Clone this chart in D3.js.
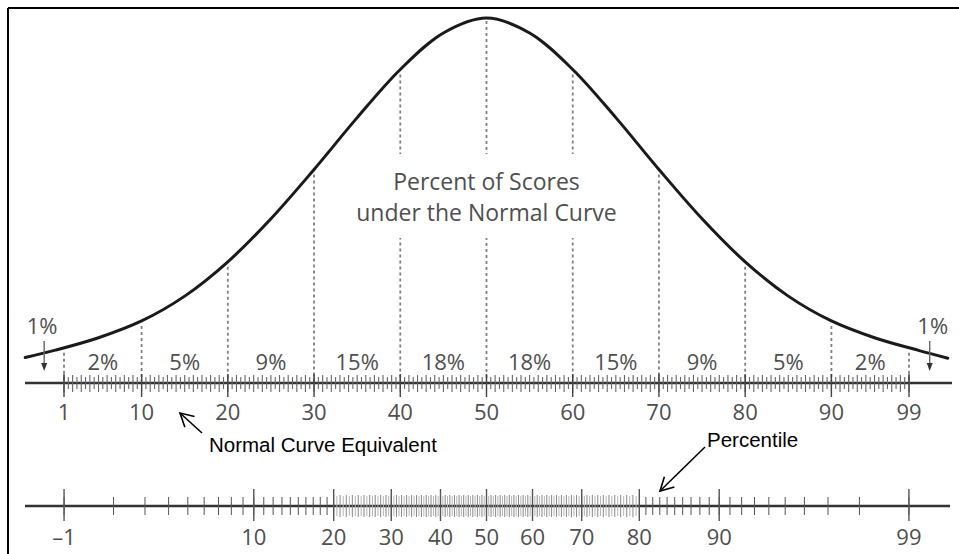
<!DOCTYPE html>
<html><head><meta charset="utf-8">
<script src="https://cdn.jsdelivr.net/npm/d3@7"></script>
<style>
body{margin:0;background:#fff;}
svg{display:block;}
</style></head>
<body>
<svg id="chart" width="959" height="554"></svg>
<script>
// ---------- data ----------
const curveNCE    = [-3.5, 0, 5, 10, 15, 20, 25, 30, 35, 40, 45, 50, 55, 60, 65, 70, 75, 80, 85, 90, 95, 100, 103.5];
const curveHeight = [0.070, 0.090, 0.124, 0.170, 0.238, 0.332, 0.450, 0.585, 0.727, 0.859, 0.959, 1.0,
                     0.959, 0.859, 0.727, 0.585, 0.450, 0.332, 0.238, 0.170, 0.124, 0.090, 0.068];
const dividerNCE   = [1, 10, 20, 30, 40, 50, 60, 70, 80, 90, 99];
const bandPercents = ["2%", "5%", "9%", "15%", "18%", "18%", "15%", "9%", "5%", "2%"];
const tailNCE      = [-1.3, 101.4];
const tailLabels   = ["1%", "1%"];
const nceTickValues  = [1, 10, 20, 30, 40, 50, 60, 70, 80, 90, 99];
const nceTickLabels  = ["1", "10", "20", "30", "40", "50", "60", "70", "80", "90", "99"];
const pctTickValues  = [1, 10, 20, 30, 40, 50, 60, 70, 80, 90, 99];
const pctTickLabels  = ["\u20131", "10", "20", "30", "40", "50", "60", "70", "80", "90", "99"];
const titleLines = ["Percent of Scores", "under the Normal Curve"];
const nceName = "Normal Curve Equivalent";
const pctName = "Percentile";

// ---------- scales ----------
const svg = d3.select("#chart");
const x = d3.scaleLinear().domain([1, 99]).range([64, 909]);
const y = d3.scaleLinear().domain([0, 1]).range([383, 18]);
const NCE_PER_Z = 21.06;
// inverse normal CDF (Acklam) used as the percentile -> NCE transform
function probit(p){
  const a=[-3.969683028665376e+01,2.209460984245205e+02,-2.759285104469687e+02,1.383577518672690e+02,-3.066479806614716e+01,2.506628277459239e+00];
  const b=[-5.447609879822406e+01,1.615858368580409e+02,-1.556989798598866e+02,6.680131188771972e+01,-1.328068155288572e+01];
  const c=[-7.784894002430293e-03,-3.223964580411365e-01,-2.400758277161838e+00,-2.549732539343734e+00,4.374664141464968e+00,2.938163982698783e+00];
  const d=[7.784695709041462e-03,3.224671290700398e-01,2.445134137142996e+00,3.754408661907416e+00];
  const pl=0.02425;
  let q,r;
  if(p<pl){q=Math.sqrt(-2*Math.log(p));return (((((c[0]*q+c[1])*q+c[2])*q+c[3])*q+c[4])*q+c[5])/((((d[0]*q+d[1])*q+d[2])*q+d[3])*q+1);}
  if(p>1-pl){q=Math.sqrt(-2*Math.log(1-p));return -(((((c[0]*q+c[1])*q+c[2])*q+c[3])*q+c[4])*q+c[5])/((((d[0]*q+d[1])*q+d[2])*q+d[3])*q+1);}
  q=p-0.5;r=q*q;
  return (((((a[0]*r+a[1])*r+a[2])*r+a[3])*r+a[4])*r+a[5])*q/(((((b[0]*r+b[1])*r+b[2])*r+b[3])*r+b[4])*r+1);
}
const xp = p => x(50 + NCE_PER_Z * probit(p / 100));

const grey = "#4f4f4f";
const sansT = "'Open Sans', 'Noto Sans', sans-serif";

// ---------- frame ----------
svg.append("line").attr("x1",8).attr("x2",959).attr("y1",8).attr("y2",8).attr("stroke","#000").attr("stroke-width",2);
svg.append("line").attr("x1",8).attr("x2",8).attr("y1",8).attr("y2",554).attr("stroke","#000").attr("stroke-width",2);

// ---------- curve ----------
const pts = curveNCE.map((n,i)=>[n, curveHeight[i]]);
const line = d3.line().x(d=>x(d[0])).y(d=>y(d[1])).curve(d3.curveCatmullRom.alpha(0.5));
const curvePath = svg.append("path").attr("d", line(pts)).attr("fill","none")
  .attr("stroke","#1a1a1a").attr("stroke-width",3).attr("stroke-linecap","round");
const node = curvePath.node();
const total = node.getTotalLength();
function curveYAt(px){
  let lo=0, hi=total;
  for(let k=0;k<40;k++){const m=(lo+hi)/2; if(node.getPointAtLength(m).x<px) lo=m; else hi=m;}
  return node.getPointAtLength(lo).y;
}

// ---------- dashed dividers ----------
const gDiv = svg.insert("g", "path");
gDiv.selectAll("line").data(dividerNCE).join("line")
  .attr("x1",d=>x(d)).attr("x2",d=>x(d))
  .attr("y1",d=>curveYAt(x(d))+ (d===50?3:5)).attr("y2",381)
  .attr("stroke","#808080").attr("stroke-width",1.8).attr("stroke-dasharray","3,3");

// white box behind centre text
svg.insert("rect","path").attr("x",385).attr("y",154).attr("width",210).attr("height",84).attr("fill","#fff");

// ---------- centre title ----------
svg.selectAll("text.title").data(titleLines).join("text").attr("class","title")
  .attr("x", x(50)).attr("y",(d,i)=>190+i*31).attr("text-anchor","middle")
  .attr("font-family",sansT).attr("font-size",23).attr("fill",grey).text(d=>d);

// ---------- band percents ----------
const mids = bandPercents.map((t,i)=>({t, n:(dividerNCE[i]+dividerNCE[i+1])/2}));
svg.selectAll("text.band").data(mids).join("text").attr("class","band")
  .attr("x",d=>x(d.n)).attr("y",370).attr("text-anchor","middle")
  .attr("font-family",sansT).attr("font-size",22).attr("fill",grey).text(d=>d.t);

// tails
svg.selectAll("text.tail").data(tailNCE).join("text").attr("class","tail")
  .attr("x",(d,i)=>x(d)+(i===0?-2:3)).attr("y",334).attr("text-anchor","middle")
  .attr("font-family",sansT).attr("font-size",22).attr("fill",grey).text((d,i)=>tailLabels[i]);
const gTailArrow = svg.append("g");
tailNCE.forEach(n=>{
  const cx = x(n);
  gTailArrow.append("line").attr("x1",cx).attr("x2",cx).attr("y1",341).attr("y2",364).attr("stroke","#666").attr("stroke-width",1.4);
  gTailArrow.append("path").attr("d",`M${cx-3},${363}L${cx+3},${363}L${cx},${371}Z`).attr("fill","#333");
});

// ---------- NCE axis ----------
const nceAxisY = 383;
svg.append("line").attr("x1",25).attr("x2",952).attr("y1",nceAxisY).attr("y2",nceAxisY).attr("stroke","#333").attr("stroke-width",2.5);
const nceMinor = d3.range(1, 99.01, 0.5);
svg.append("g").selectAll("line").data(nceMinor).join("line")
  .attr("x1",d=>x(d)).attr("x2",d=>x(d))
  .attr("y1",d=>Number.isInteger(d)?375:377).attr("y2",d=>Number.isInteger(d)?392:389)
  .attr("stroke","#666").attr("stroke-width",1.1);
svg.append("g").selectAll("line").data(nceTickValues).join("line")
  .attr("x1",d=>x(d)).attr("x2",d=>x(d)).attr("y1",374).attr("y2",397)
  .attr("stroke","#444").attr("stroke-width",1.4);
svg.selectAll("text.ncel").data(nceTickValues).join("text").attr("class","ncel")
  .attr("x",d=>x(d)).attr("y",420).attr("text-anchor","middle")
  .attr("font-family",sansT).attr("font-size",22).attr("fill",grey).text((d,i)=>nceTickLabels[i]);

// ---------- percentile axis ----------
const pAxisY = 506;
svg.append("line").attr("x1",25).attr("x2",950).attr("y1",pAxisY).attr("y2",pAxisY).attr("stroke","#333").attr("stroke-width",2.5);
const pHalf = d3.range(20.5, 80, 1);
svg.append("g").selectAll("line").data(pHalf).join("line")
  .attr("x1",d=>xp(d)).attr("x2",d=>xp(d)).attr("y1",496).attr("y2",516)
  .attr("stroke","#b5b5b5").attr("stroke-width",1);
const pInt = d3.range(1, 100, 1);
svg.append("g").selectAll("line").data(pInt).join("line")
  .attr("x1",d=>xp(d)).attr("x2",d=>xp(d))
  .attr("y1",d=>(d>=20&&d<=80)?495:497).attr("y2",d=>(d>=20&&d<=80)?517:515)
  .attr("stroke",d=>(d>=20&&d<=80)?"#888":"#555").attr("stroke-width",1);
svg.append("g").selectAll("line").data(pctTickValues).join("line")
  .attr("x1",d=>xp(d)).attr("x2",d=>xp(d)).attr("y1",489).attr("y2",521)
  .attr("stroke","#555").attr("stroke-width",1.4);
svg.selectAll("text.pl").data(pctTickValues).join("text").attr("class","pl")
  .attr("x",d=>xp(d)).attr("y",545).attr("text-anchor","middle")
  .attr("font-family",sansT).attr("font-size",22).attr("fill",grey).text((d,i)=>pctTickLabels[i]);

// ---------- annotations ----------
const arial = "Arial, 'Liberation Sans', sans-serif";
svg.append("text").attr("x",209).attr("y",452).attr("font-family",arial).attr("font-size",20.5).attr("fill","#000").text(nceName);
svg.append("text").attr("x",707).attr("y",447).attr("font-family",arial).attr("font-size",20.5).attr("fill","#000").text(pctName);
function arrow(tx,ty,fx,fy){
  const g = svg.append("g").attr("stroke","#000").attr("stroke-width",1.6).attr("fill","none");
  g.append("line").attr("x1",fx).attr("y1",fy).attr("x2",tx).attr("y2",ty);
  const ang = Math.atan2(fy-ty, fx-tx), L=15, sp=0.5;
  g.append("path").attr("d",`M${tx+L*Math.cos(ang+sp)},${ty+L*Math.sin(ang+sp)}L${tx},${ty}L${tx+L*Math.cos(ang-sp)},${ty+L*Math.sin(ang-sp)}`);
}
arrow(180,413,202,433);
arrow(660,491,705,447);
</script>
</body></html>
